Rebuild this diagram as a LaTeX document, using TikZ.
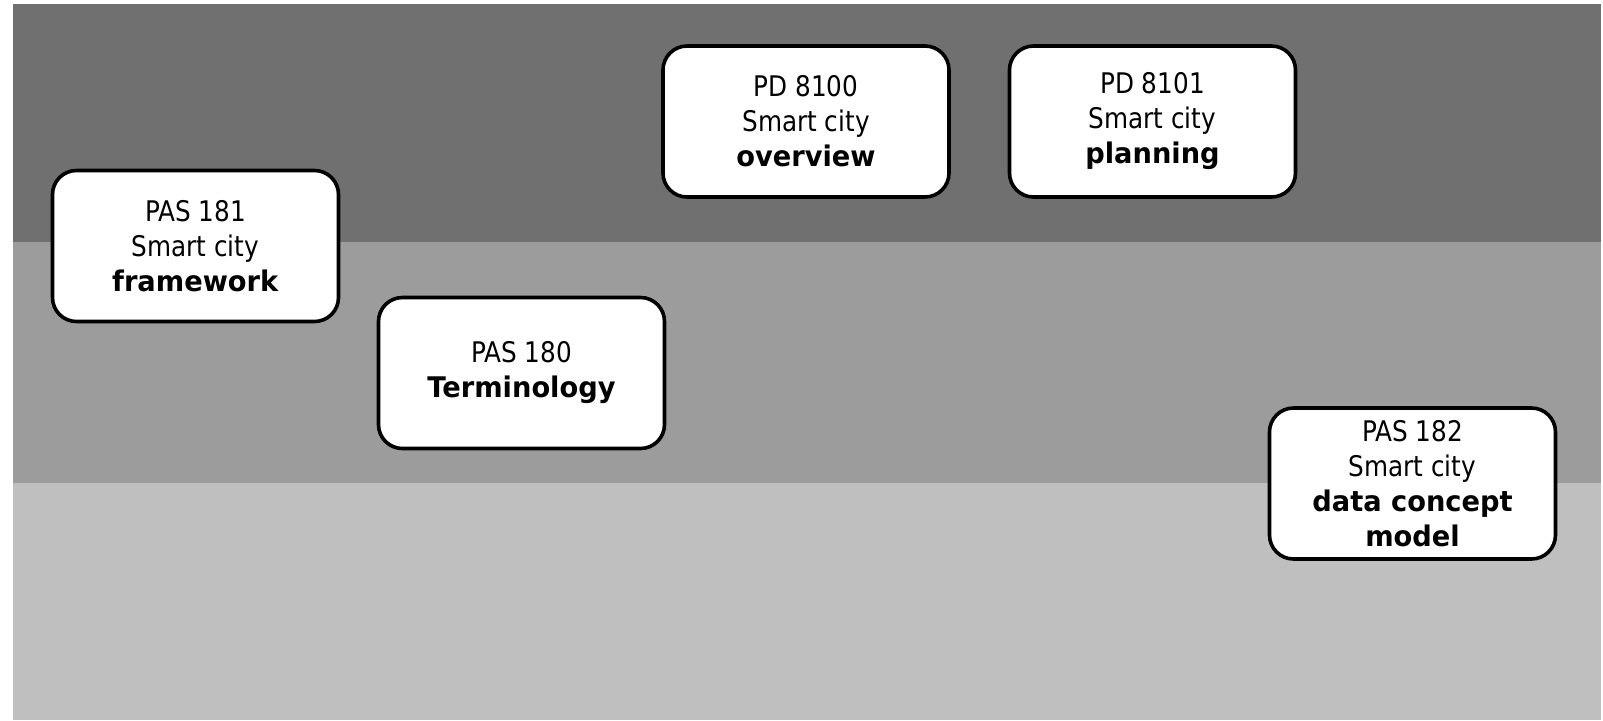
\documentclass[tikz,border=0pt]{standalone}
\usepackage{fontspec}
\setmainfont{DejaVu Sans}[FakeStretch=0.87,BoldFeatures={FakeStretch=0.96}]
\begin{document}
\begin{tikzpicture}[x=0.5pt,y=-0.5pt,
  stdbox/.style={draw=black,line width=1.8pt,fill=white,rounded corners=12pt,
    minimum width=143pt,minimum height=75.5pt,inner sep=0pt,align=center,
    font=\fontsize{14.2pt}{17.5pt}\selectfont}]
\useasboundingbox (0,0) rectangle (1603,720);
\fill[white] (0,0) rectangle (1603,720);
\fill[fill={rgb,255:red,112;green,112;blue,112}] (13,4) rectangle (1601,242);
\fill[fill={rgb,255:red,156;green,156;blue,156}] (13,242) rectangle (1601,483);
\fill[fill={rgb,255:red,191;green,191;blue,191}] (13,483) rectangle (1601,720);
\node[stdbox] (pas181) at (195.5,246) {PAS 181\\Smart city\\\textbf{framework}};
\node[stdbox] (pd8100) at (806,121.5) {PD 8100\\Smart city\\\textbf{overview}};
\node[stdbox] (pd8101) at (1152.5,121.5) {PD 8101\\Smart city\\\textbf{planning}};
\node[stdbox] (pas180) at (521.5,373) {PAS 180\\\textbf{Terminology}};
\node[stdbox] (pas182) at (1412.5,483.5) {PAS 182\\Smart city\\\textbf{data concept}\\\textbf{model}};
\end{tikzpicture}
\end{document}
